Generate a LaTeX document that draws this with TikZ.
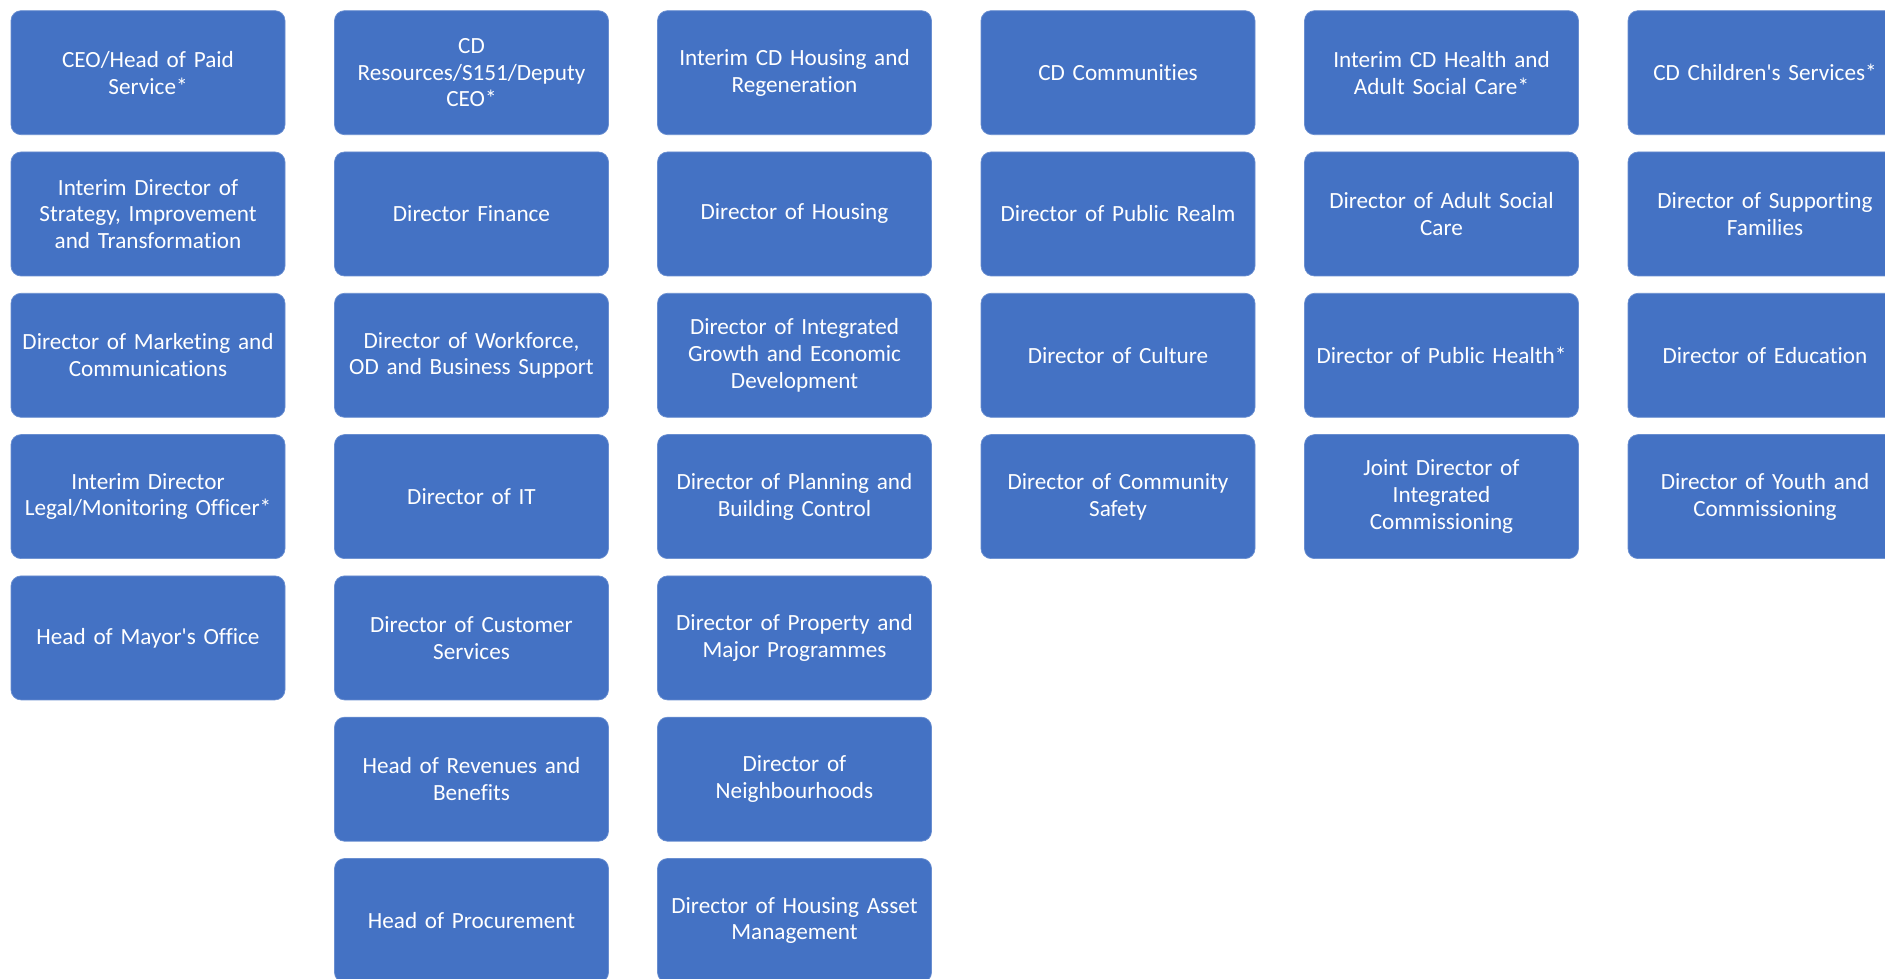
\documentclass[tikz,border=0pt]{standalone}
\usepackage{fontspec}
\setmainfont{Carlito}[Ligatures={NoCommon}]
\usepackage{xcolor}
\usepackage{tikz}
\usetikzlibrary{positioning}

\definecolor{officeblue}{HTML}{4472C4}

\begin{document}
\begin{tikzpicture}[
    post/.style={rectangle, rounded corners=0.2cm, fill=officeblue, draw=officeblue!80!white, thin, text=white, minimum width=5.48cm, minimum height=2.48cm, text width=5.42cm, align=center, font=\fontsize{13.2}{15.2}\selectfont, inner sep=0pt},
]

% === LAYOUT: 6 COLUMNS, ONE PER DIRECTORATE ===
\clip (0,0) rectangle (37.7,-19.58);

% --- COLUMN 1: CHIEF EXECUTIVE (x=2.96) ---
\node[post] (CEO)   at (2.96, -1.454) {CEO/Head of Paid\\Service*};
\node[post] (Strat) at (2.96, -4.28)  {Interim Director of\\Strategy, Improvement\\and Transformation};
\node[post] (Mark)  at (2.96, -7.106) {Director of Marketing and\\Communications};
\node[post] (Legal) at (2.96, -9.932) {Interim Director\\Legal/Monitoring Officer*};
\node[post] (Mayor) at (2.96, -12.758) {Head of Mayor\textquotesingle s Office};

% --- COLUMN 2: RESOURCES (x=9.43) ---
\node[post] (Res)   at (9.43, -1.454) {CD\\Resources/S151/Deputy\\CEO*};
\node[post] (Fin)   at (9.43, -4.28)  {Director Finance};
\node[post] (Work)  at (9.43, -7.106) {Director of Workforce,\\OD and Business Support};
\node[post] (IT)    at (9.43, -9.932) {Director of IT};
\node[post] (Cust)  at (9.43, -12.758) {Director of Customer\\Services};
\node[post] (Rev)   at (9.43, -15.584) {Head of Revenues and\\Benefits};
\node[post] (Proc)  at (9.43, -18.41) {Head of Procurement};

% --- COLUMN 3: HOUSING AND REGENERATION (x=15.89) ---
\node[post] (Hous)  at (15.89, -1.454) {Interim CD Housing and\\Regeneration};
\node[post] (DHous) at (15.89, -4.28)  {Director of Housing};
\node[post] (Grow)  at (15.89, -7.106) {Director of Integrated\\Growth and Economic\\Development};
\node[post] (Plan)  at (15.89, -9.932) {Director of Planning and\\Building Control};
\node[post] (Prop)  at (15.89, -12.758) {Director of Property and\\Major Programmes};
\node[post] (Neigh) at (15.89, -15.584) {Director of\\Neighbourhoods};
\node[post] (Asset) at (15.89, -18.41) {Director of Housing Asset\\Management};

% --- COLUMN 4: COMMUNITIES (x=22.36) ---
\node[post] (Comm)  at (22.36, -1.454) {CD Communities};
\node[post] (Realm) at (22.36, -4.28)  {Director of Public Realm};
\node[post] (Cult)  at (22.36, -7.106) {Director of Culture};
\node[post] (Safe)  at (22.36, -9.932) {Director of Community\\Safety};

% --- COLUMN 5: HEALTH AND ADULT SOCIAL CARE (x=28.83) ---
\node[post] (Health) at (28.83, -1.454) {Interim CD Health and\\Adult Social Care*};
\node[post] (ASC)    at (28.83, -4.28)  {Director of Adult Social\\Care};
\node[post] (PubH)   at (28.83, -7.106) {Director of Public Health*};
\node[post] (Joint)  at (28.83, -9.932) {Joint Director of\\Integrated\\Commissioning};

% --- COLUMN 6: CHILDREN'S SERVICES (x=35.3, cut at the right edge) ---
\node[post] (Child) at (35.3, -1.454) {CD Children\textquotesingle s Services*};
\node[post] (Fam)   at (35.3, -4.28)  {Director of Supporting\\Families};
\node[post] (Edu)   at (35.3, -7.106) {Director of Education};
\node[post] (Youth) at (35.3, -9.932) {Director of Youth and\\Commissioning};

\end{tikzpicture}
\end{document}
